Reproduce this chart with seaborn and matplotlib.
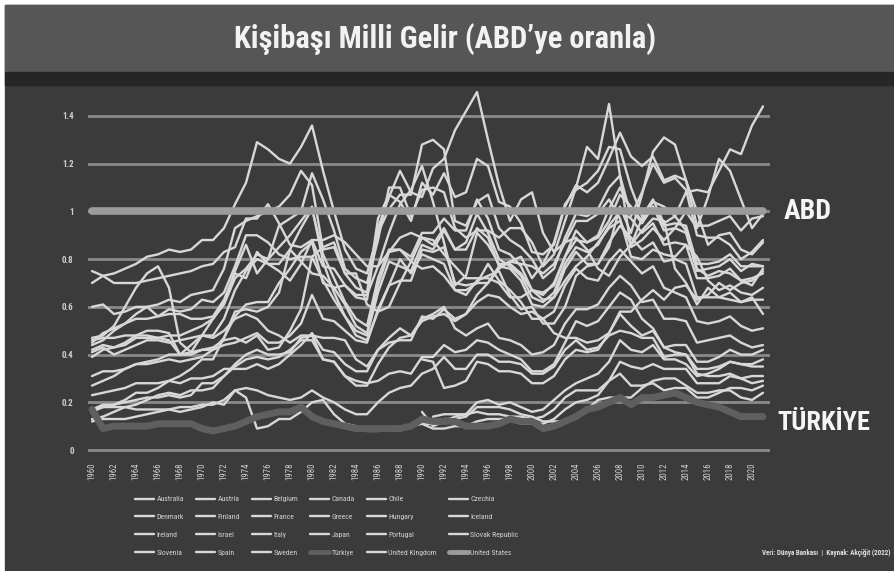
import numpy as np
import pandas as pd
import matplotlib
matplotlib.use("Agg")
import matplotlib.pyplot as plt
import matplotlib.font_manager as fm
from matplotlib.lines import Line2D
from matplotlib.patches import Rectangle
import seaborn as sns

nan = np.nan

# GDP per capita relative to the US (1960-2021)
years = list(range(1960, 2022))

australia = [
    0.60, 0.61, 0.57, 0.58, 0.60, 0.60, 0.56, 0.59, 0.58, 0.59,
    0.63, 0.62, 0.66, 0.77, 0.90, 0.90, 0.87, 0.82, 0.80, 0.81,
    0.81, 0.85, 0.87, 0.74, 0.74, 0.61, 0.58, 0.60, 0.70, 0.79,
    0.76, 0.77, 0.73, 0.67, 0.65, 0.71, 0.73, 0.75, 0.65, 0.59,
    0.60, 0.53, 0.53, 0.60, 0.73, 0.77, 0.78, 0.85, 1.02, 0.91,
    1.07, 1.25, 1.31, 1.28, 1.13, 1.00, 0.86, 0.90, 0.91, 0.84,
    0.82, 0.87]
austria = [
    0.31, 0.33, 0.33, 0.34, 0.36, 0.36, 0.37, 0.38, 0.37, 0.38,
    0.39, 0.42, 0.47, 0.56, 0.61, 0.62, 0.62, 0.70, 0.76, 0.83,
    0.87, 0.70, 0.68, 0.61, 0.52, 0.49, 0.69, 0.83, 0.84, 0.81,
    0.91, 0.91, 0.97, 0.92, 0.92, 1.05, 0.97, 0.84, 0.82, 0.77,
    0.67, 0.65, 0.70, 0.81, 0.88, 0.87, 0.89, 0.96, 1.07, 1.02,
    0.96, 1.02, 0.94, 0.95, 0.94, 0.78, 0.78, 0.79, 0.82, 0.77,
    0.77, 0.77]
belgium = [
    0.42, 0.44, 0.43, 0.44, 0.47, 0.47, 0.47, 0.48, 0.48, 0.50,
    0.52, 0.55, 0.61, 0.72, 0.76, 0.82, 0.80, 0.85, 0.90, 0.96,
    1.02, 0.79, 0.66, 0.56, 0.50, 0.48, 0.66, 0.79, 0.77, 0.75,
    0.86, 0.84, 0.92, 0.84, 0.87, 0.99, 0.91, 0.80, 0.77, 0.73,
    0.64, 0.62, 0.66, 0.78, 0.85, 0.83, 0.86, 0.94, 1.00, 0.97,
    0.91, 0.95, 0.86, 0.87, 0.86, 0.72, 0.72, 0.73, 0.76, 0.71,
    0.72, 0.74]
canada = [
    0.75, 0.73, 0.70, 0.70, 0.70, 0.71, 0.72, 0.73, 0.74, 0.75,
    0.77, 0.78, 0.83, 0.85, 0.97, 0.97, 1.03, 0.95, 0.86, 0.85,
    0.88, 0.88, 0.90, 0.87, 0.82, 0.77, 0.77, 0.83, 0.89, 0.91,
    0.89, 0.88, 0.82, 0.77, 0.72, 0.72, 0.72, 0.70, 0.64, 0.64,
    0.67, 0.63, 0.64, 0.71, 0.77, 0.81, 0.87, 0.93, 0.96, 0.86,
    0.97, 1.04, 1.02, 0.98, 0.92, 0.76, 0.73, 0.75, 0.74, 0.71,
    0.69, 0.76]
chile = [
    0.17, 0.18, 0.18, 0.18, 0.17, 0.17, 0.17, 0.17, 0.16, 0.17,
    0.18, 0.20, 0.19, 0.25, 0.22, 0.09, 0.10, 0.13, 0.13, 0.16,
    0.20, 0.21, 0.15, 0.11, 0.10, 0.08, 0.08, 0.09, 0.10, 0.10,
    0.11, 0.11, 0.13, 0.13, 0.14, 0.18, 0.18, 0.18, 0.17, 0.15,
    0.14, 0.12, 0.12, 0.12, 0.15, 0.17, 0.21, 0.22, 0.22, 0.22,
    0.26, 0.29, 0.30, 0.30, 0.27, 0.24, 0.24, 0.25, 0.25, 0.22,
    0.21, 0.24]
czechia = [nan] * 30 + [
    0.16, 0.10, 0.12, 0.14, 0.15, 0.20, 0.21, 0.19, 0.20, 0.18,
    0.16, 0.17, 0.21, 0.25, 0.28, 0.30, 0.32, 0.37, 0.46, 0.42,
    0.41, 0.44, 0.38, 0.38, 0.36, 0.31, 0.32, 0.34, 0.37, 0.36,
    0.36, 0.38]
denmark = [
    0.45, 0.49, 0.51, 0.53, 0.57, 0.60, 0.61, 0.63, 0.62, 0.65,
    0.66, 0.67, 0.76, 0.93, 0.96, 0.98, 1.00, 1.02, 1.07, 1.17,
    1.11, 0.84, 0.85, 0.74, 0.68, 0.66, 0.97, 1.07, 1.04, 0.96,
    1.12, 1.07, 1.16, 1.06, 1.08, 1.22, 1.19, 1.04, 1.02, 0.95,
    0.83, 0.82, 0.86, 1.02, 1.11, 1.08, 1.12, 1.22, 1.33, 1.23,
    1.19, 1.23, 1.13, 1.15, 1.13, 0.94, 0.94, 0.96, 0.98, 0.92,
    0.97, 0.98]
finland = [
    0.39, 0.42, 0.43, 0.45, 0.48, 0.50, 0.50, 0.49, 0.40, 0.44,
    0.48, 0.48, 0.55, 0.67, 0.75, 0.80, 0.78, 0.75, 0.71, 0.78,
    0.88, 0.77, 0.76, 0.69, 0.65, 0.65, 0.77, 0.91, 1.03, 1.09,
    1.19, 1.04, 0.87, 0.69, 0.73, 0.91, 0.86, 0.78, 0.78, 0.74,
    0.67, 0.66, 0.69, 0.81, 0.92, 0.87, 0.90, 1.01, 1.10, 1.01,
    0.95, 1.02, 0.92, 0.93, 0.91, 0.75, 0.76, 0.77, 0.80, 0.75,
    0.78, 0.77]
france = [
    0.44, 0.46, 0.50, 0.53, 0.55, 0.55, 0.56, 0.57, 0.57, 0.55,
    0.55, 0.56, 0.63, 0.74, 0.72, 0.83, 0.78, 0.78, 0.84, 0.93,
    1.01, 0.82, 0.72, 0.62, 0.55, 0.52, 0.72, 0.84, 0.84, 0.79,
    0.89, 0.86, 0.93, 0.84, 0.84, 0.93, 0.89, 0.77, 0.76, 0.71,
    0.61, 0.60, 0.64, 0.76, 0.83, 0.78, 0.78, 0.87, 0.94, 0.89,
    0.84, 0.87, 0.79, 0.80, 0.78, 0.64, 0.64, 0.64, 0.66, 0.62,
    0.63, 0.63]
greece = [
    0.17, 0.19, 0.19, 0.20, 0.21, 0.22, 0.22, 0.23, 0.22, 0.23,
    0.28, 0.28, 0.31, 0.35, 0.38, 0.39, 0.38, 0.39, 0.42, 0.46,
    0.46, 0.38, 0.37, 0.31, 0.29, 0.28, 0.29, 0.32, 0.33, 0.32,
    0.39, 0.39, 0.44, 0.41, 0.42, 0.46, 0.45, 0.42, 0.40, 0.38,
    0.33, 0.33, 0.36, 0.45, 0.54, 0.52, 0.54, 0.60, 0.66, 0.63,
    0.55, 0.51, 0.43, 0.41, 0.40, 0.32, 0.31, 0.31, 0.32, 0.30,
    0.28, 0.29]
hungary = [nan] * 31 + [
    0.14, 0.15, 0.15, 0.15, 0.16, 0.15, 0.15, 0.14, 0.14,
    0.13, 0.14, 0.17, 0.22, 0.25, 0.25, 0.25, 0.29, 0.32, 0.27,
    0.27, 0.28, 0.25, 0.26, 0.26, 0.22, 0.22, 0.24, 0.26, 0.26,
    0.25, 0.27]
iceland = [
    0.47, 0.48, 0.52, 0.60, 0.68, 0.74, 0.77, 0.68, 0.45, 0.41,
    0.48, 0.55, 0.62, 0.75, 0.86, 0.74, 0.80, 0.94, 0.97, 1.00,
    1.16, 1.05, 0.92, 0.76, 0.72, 0.70, 0.88, 1.10, 1.10, 0.98,
    1.09, 1.10, 1.08, 0.93, 0.89, 0.92, 0.92, 0.89, 0.93, 0.93,
    0.87, 0.77, 0.82, 0.96, 1.10, 1.27, 1.22, 1.45, 1.15, 0.85,
    0.88, 0.93, 0.88, 0.93, 1.00, 0.93, 1.06, 1.22, 1.17, 1.05,
    0.93, 0.99]
ireland = [
    0.23, 0.24, 0.25, 0.26, 0.28, 0.28, 0.28, 0.29, 0.28, 0.30,
    0.30, 0.31, 0.34, 0.34, 0.34, 0.36, 0.34, 0.36, 0.40, 0.44,
    0.49, 0.42, 0.41, 0.36, 0.33, 0.33, 0.42, 0.45, 0.46, 0.46,
    0.56, 0.55, 0.59, 0.55, 0.57, 0.65, 0.70, 0.77, 0.79, 0.81,
    0.72, 0.78, 0.87, 1.03, 1.09, 1.12, 1.17, 1.27, 1.26, 1.10,
    0.98, 1.05, 0.95, 0.98, 1.08, 1.09, 1.08, 1.17, 1.26, 1.24,
    1.36, 1.44]
israel = [
    0.41, 0.43, 0.40, 0.42, 0.44, 0.46, 0.46, 0.45, 0.46, 0.47,
    0.48, 0.47, 0.50, 0.55, 0.57, 0.55, 0.50, 0.48, 0.45, 0.48,
    0.48, 0.47, 0.47, 0.46, 0.38, 0.35, 0.42, 0.47, 0.51, 0.48,
    0.54, 0.56, 0.57, 0.54, 0.57, 0.62, 0.65, 0.64, 0.60, 0.57,
    0.58, 0.55, 0.49, 0.47, 0.47, 0.45, 0.46, 0.49, 0.58, 0.58,
    0.63, 0.67, 0.63, 0.68, 0.69, 0.63, 0.65, 0.70, 0.67, 0.70,
    0.71, 0.75]
italy = [
    0.27, 0.29, 0.31, 0.34, 0.36, 0.37, 0.38, 0.40, 0.40, 0.41,
    0.42, 0.42, 0.44, 0.45, 0.47, 0.49, 0.45, 0.45, 0.48, 0.53,
    0.65, 0.55, 0.54, 0.50, 0.46, 0.45, 0.59, 0.69, 0.71, 0.71,
    0.84, 0.83, 0.85, 0.70, 0.69, 0.70, 0.78, 0.71, 0.67, 0.62,
    0.55, 0.55, 0.58, 0.69, 0.76, 0.72, 0.71, 0.79, 0.84, 0.79,
    0.74, 0.77, 0.68, 0.66, 0.64, 0.54, 0.53, 0.54, 0.56, 0.52,
    0.50, 0.51]
japan = [
    0.16, 0.18, 0.19, 0.21, 0.24, 0.24, 0.26, 0.29, 0.31, 0.34,
    0.38, 0.38, 0.47, 0.58, 0.59, 0.58, 0.60, 0.66, 0.84, 0.79,
    0.74, 0.73, 0.68, 0.69, 0.64, 0.63, 0.93, 1.06, 1.17, 1.08,
    1.06, 1.18, 1.22, 1.34, 1.42, 1.50, 1.30, 1.11, 0.96, 1.05,
    1.08, 0.91, 0.83, 0.87, 0.89, 0.84, 0.76, 0.73, 0.81, 0.86,
    0.92, 0.97, 0.96, 0.76, 0.70, 0.61, 0.68, 0.64, 0.63, 0.62,
    0.64, 0.57]
portugal = [
    0.12, 0.13, 0.13, 0.13, 0.14, 0.15, 0.16, 0.17, 0.18, 0.18,
    0.19, 0.19, 0.21, 0.25, 0.26, 0.25, 0.23, 0.22, 0.21, 0.22,
    0.25, 0.22, 0.20, 0.17, 0.15, 0.15, 0.20, 0.24, 0.26, 0.27,
    0.32, 0.34, 0.39, 0.34, 0.34, 0.40, 0.40, 0.37, 0.37, 0.36,
    0.32, 0.32, 0.35, 0.42, 0.46, 0.42, 0.43, 0.48, 0.50, 0.49,
    0.47, 0.47, 0.39, 0.40, 0.40, 0.34, 0.34, 0.35, 0.37, 0.36,
    0.35, 0.35]
slovakia = [nan] * 30 + [
    0.11, 0.09, 0.09, 0.10, 0.10, 0.12, 0.13, 0.13, 0.13, 0.11,
    0.11, 0.11, 0.13, 0.17, 0.20, 0.21, 0.23, 0.29, 0.37, 0.35,
    0.34, 0.36, 0.34, 0.34, 0.34, 0.28, 0.28, 0.28, 0.31, 0.30,
    0.31, 0.31]
slovenia = [nan] * 30 + [
    0.38, 0.37, 0.26, 0.27, 0.29, 0.37, 0.36, 0.33, 0.33, 0.32,
    0.28, 0.28, 0.31, 0.38, 0.42, 0.41, 0.42, 0.49, 0.57, 0.52,
    0.48, 0.50, 0.43, 0.44, 0.44, 0.37, 0.37, 0.39, 0.42, 0.40,
    0.40, 0.42]
spain = [
    0.13, 0.14, 0.16, 0.18, 0.19, 0.21, 0.23, 0.24, 0.23, 0.25,
    0.25, 0.26, 0.31, 0.36, 0.40, 0.42, 0.40, 0.40, 0.41, 0.47,
    0.48, 0.38, 0.37, 0.31, 0.27, 0.27, 0.36, 0.43, 0.47, 0.48,
    0.55, 0.57, 0.60, 0.51, 0.48, 0.51, 0.53, 0.47, 0.46, 0.44,
    0.40, 0.41, 0.44, 0.53, 0.59, 0.59, 0.61, 0.68, 0.73, 0.69,
    0.62, 0.63, 0.55, 0.55, 0.54, 0.45, 0.46, 0.47, 0.48, 0.45,
    0.43, 0.44]
sweden = [
    0.70, 0.73, 0.74, 0.76, 0.78, 0.81, 0.82, 0.84, 0.83, 0.84,
    0.88, 0.88, 0.93, 1.03, 1.12, 1.29, 1.26, 1.22, 1.20, 1.27,
    1.36, 1.17, 1.00, 0.84, 0.76, 0.74, 0.91, 1.01, 1.07, 1.07,
    1.28, 1.30, 1.26, 0.96, 0.94, 1.04, 1.07, 0.93, 0.88, 0.85,
    0.80, 0.72, 0.76, 0.89, 0.99, 0.98, 1.01, 1.10, 1.15, 0.98,
    1.08, 1.20, 1.12, 1.14, 1.09, 0.90, 0.89, 0.89, 0.86, 0.80,
    0.83, 0.88]
turkiye = [
    0.17, 0.09, 0.10, 0.10, 0.10, 0.10, 0.11, 0.11, 0.11, 0.11,
    0.09, 0.08, 0.09, 0.10, 0.12, 0.14, 0.15, 0.16, 0.16, 0.18,
    0.14, 0.12, 0.11, 0.10, 0.09, 0.09, 0.09, 0.09, 0.09, 0.10,
    0.13, 0.12, 0.12, 0.12, 0.10, 0.10, 0.10, 0.11, 0.13, 0.12,
    0.12, 0.09, 0.10, 0.12, 0.14, 0.17, 0.18, 0.20, 0.22, 0.19,
    0.22, 0.22, 0.23, 0.24, 0.22, 0.20, 0.19, 0.18, 0.16, 0.14,
    0.14, 0.14]
uk = [
    0.46, 0.47, 0.47, 0.48, 0.48, 0.48, 0.47, 0.46, 0.40, 0.40,
    0.42, 0.43, 0.46, 0.47, 0.45, 0.48, 0.42, 0.43, 0.50, 0.59,
    0.81, 0.71, 0.63, 0.56, 0.48, 0.46, 0.58, 0.69, 0.80, 0.74,
    0.82, 0.80, 0.78, 0.67, 0.67, 0.70, 0.70, 0.76, 0.79, 0.78,
    0.77, 0.74, 0.78, 0.87, 0.96, 0.96, 0.99, 1.05, 0.97, 0.81,
    0.80, 0.84, 0.82, 0.81, 0.86, 0.81, 0.71, 0.67, 0.69, 0.66,
    0.65, 0.68]
usa = [1.0] * 62

countries = {
    "Australia": australia, "Austria": austria, "Belgium": belgium,
    "Canada": canada, "Chile": chile, "Czechia": czechia,
    "Denmark": denmark, "Finland": finland, "France": france,
    "Greece": greece, "Hungary": hungary, "Iceland": iceland,
    "Ireland": ireland, "Israel": israel, "Italy": italy,
    "Japan": japan, "Portugal": portugal, "Slovak Republic": slovakia,
    "Slovenia": slovenia, "Spain": spain, "Sweden": sweden,
    "Türkiye": turkiye, "United Kingdom": uk, "United States": usa,
}

yticks = [0, 0.2, 0.4, 0.6, 0.8, 1.0, 1.2, 1.4]
ytick_labels = ["0", "0.2", "0.4", "0.6", "0.8", "1", "1.2", "1.4"]
xticks = list(range(1960, 2021, 2))

# Colours
BG = "#3b3b3b"
LINE = "#d8d8d8"
TEXT = "#d0d0d0"
style = {name: (LINE, 1.7, 2) for name in countries}
style["Türkiye"] = ("#5f5f5f", 5.0, 3)
style["United States"] = ("#9b9b9b", 5.5, 4)

sns.set_theme(style="white")
avail = {f.name for f in fm.fontManager.ttflist}
COND = next((f for f in ["Liberation Sans Narrow", "Roboto Condensed", "Open Sans Condensed"] if f in avail), "Roboto")
plt.rcParams["font.family"] = [COND, "DejaVu Sans"]

W, H = 894, 571
fig = plt.figure(figsize=(W / 100, H / 100), dpi=100, facecolor="white")

# backgrounds: dark canvas, title band, dark strip under the title
fig.patches.append(Rectangle((5 / W, 0), 1, (H - 5) / H, transform=fig.transFigure,
                             color=BG, zorder=-10))
fig.patches.append(Rectangle((5 / W, (H - 72) / H), 1, 67 / H, transform=fig.transFigure,
                             color="#565656", zorder=-9))
fig.patches.append(Rectangle((5 / W, (H - 85) / H), 1, 13 / H, transform=fig.transFigure,
                             color="#262626", zorder=-9))

ax = fig.add_axes([87.6 / W, (H - 457.2) / H, (769.6 - 87.6) / W, (457.2 - 87.3) / H])
ax.set_facecolor("none")

for name, vals in countries.items():
    df = pd.DataFrame({"year": years, "ratio": vals}).dropna()
    c, lw, z = style[name]
    sns.lineplot(data=df, x="year", y="ratio", ax=ax, color=c, linewidth=lw,
                 estimator=None, zorder=z, solid_capstyle="round")

ax.set_xlim(1959.6, 2021.6)
ax.set_ylim(-0.03, 1.52)
ax.set_yticks(yticks)
ax.set_yticklabels(ytick_labels, fontsize=6.5, color=TEXT, fontweight="bold")
ax.set_xticks(xticks)
ax.set_xticklabels([str(x) for x in xticks], rotation=90, fontsize=6.3, color=TEXT)
ax.tick_params(length=0, pad=4)
ax.tick_params(axis="y", pad=10)
ax.set_xlabel("")
ax.set_ylabel("")
ax.grid(axis="y", color="#8a8a8a", linewidth=2, zorder=0)
ax.grid(axis="x", visible=False)
ax.set_axisbelow(True)
for s in ax.spines.values():
    s.set_visible(False)

# title and annotations
fig.text(445 / W, (H - 39) / H, "Kişibaşı Milli Gelir (ABD’ye oranla)", ha="center", va="center",
         fontsize=22, fontweight="bold", color="#f2f2f2")
fig.text(784 / W, (H - 211) / H, "ABD", ha="left", va="center",
         fontsize=20, fontweight="bold", color="#f5f5f5")
fig.text(777 / W, (H - 423) / H, "TÜRKİYE", ha="left", va="center",
         fontsize=19, fontweight="bold", color="#f5f5f5")
fig.text(890 / W, (H - 553) / H, "Veri: Dünya Bankası  |  Kaynak: Akçiğit (2022)", ha="right",
         va="center", fontsize=5, fontweight="bold", color="#e0e0e0")

# legend, laid out row by row
names = list(countries.keys())
order = [names[r * 6 + c] for c in range(6) for r in range(4)]
handles = [Line2D([0], [0], color=style[n][0], lw=min(style[n][1], 3.5)) for n in order]
fig.legend(handles, order, ncol=6, loc="upper left", bbox_to_anchor=(128 / W, (H - 489) / H),
           frameon=False, fontsize=5.6, handlelength=2.5, handletextpad=0.25,
           columnspacing=1.55, labelspacing=1.45, labelcolor=TEXT)

fig.savefig("out.png", dpi=100, facecolor=fig.get_facecolor())
